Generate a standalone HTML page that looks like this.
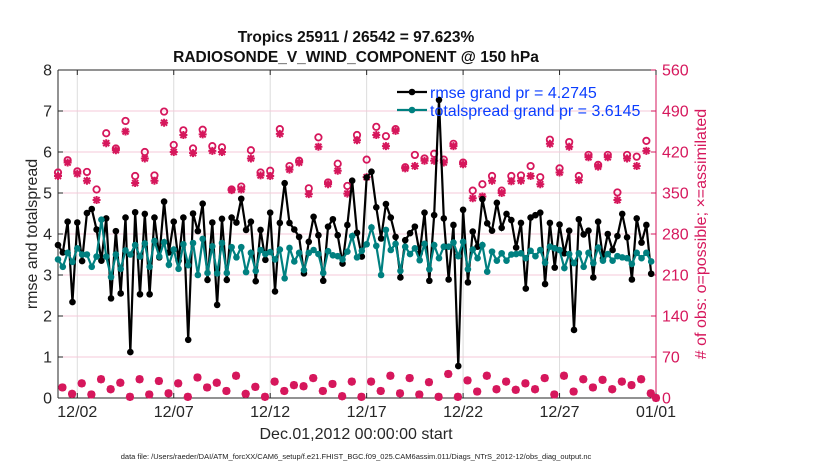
<!DOCTYPE html>
<html><head><meta charset="utf-8"><style>
body{margin:0;background:#fff;}
svg{display:block;font-family:"Liberation Sans",sans-serif;}
</style></head><body>
<svg id="chart" width="830" height="470" viewBox="0 0 830 470"></svg>
<script>
const rmse=[3.73,3.55,4.30,2.34,4.28,3.34,4.51,4.61,4.11,3.35,4.38,2.43,4.07,2.55,4.40,1.12,4.53,2.53,4.49,2.53,4.40,3.43,4.79,3.55,4.30,3.35,4.40,1.42,4.50,4.07,4.74,2.88,4.28,2.27,4.37,2.88,4.40,4.28,4.86,4.10,4.30,2.85,4.10,3.37,4.52,2.60,4.27,5.24,4.27,4.11,3.93,3.04,3.81,4.42,3.97,2.86,4.18,4.36,3.97,3.28,4.22,5.30,4.03,3.45,5.38,5.52,4.65,3.89,4.73,4.40,3.93,2.94,3.85,4.02,4.18,3.53,4.52,2.86,4.46,7.27,4.38,2.89,4.22,0.78,4.59,2.82,4.06,3.69,4.85,4.26,4.08,4.76,4.15,4.49,4.34,3.67,4.27,2.67,4.40,4.46,4.52,2.78,4.27,3.18,4.23,3.53,4.08,1.66,4.36,3.99,4.08,2.94,4.30,3.41,4.00,3.61,3.95,4.49,3.92,2.89,4.38,3.79,4.22,3.03];
const spread=[3.38,3.20,3.54,3.32,3.65,3.50,3.50,3.20,3.45,4.35,3.45,2.95,3.50,3.15,3.60,3.50,3.73,3.45,3.77,3.20,3.83,3.45,3.80,3.25,3.62,3.15,3.75,3.24,3.78,3.00,3.88,3.05,3.70,3.04,3.78,3.05,3.68,3.43,3.68,3.07,3.54,3.10,3.61,3.51,3.56,3.38,3.62,2.92,3.66,3.33,3.54,3.12,3.54,3.61,3.51,3.05,3.58,3.48,3.46,3.38,3.57,3.95,3.43,3.59,3.75,4.16,3.71,3.00,4.10,3.61,3.76,3.10,3.69,3.51,3.65,3.36,3.76,3.14,3.73,3.41,3.69,3.69,3.79,3.46,3.81,3.14,3.62,3.41,3.73,3.08,3.57,3.35,3.53,3.35,3.50,3.51,3.53,3.41,3.59,3.46,3.61,3.30,3.69,3.65,3.61,3.17,3.51,3.29,3.53,3.20,3.54,3.29,3.67,3.35,3.51,3.35,3.46,3.43,3.41,3.27,3.54,3.41,3.54,3.33];
const possibleHi=[385,406,387,386,356,452,426,473,379,420,380,489,432,457,426,458,430,428,356,361,423,385,388,459,396,405,358,445,368,400,362,449,407,463,447,459,394,415,409,417,407,434,402,354,365,379,354,379,380,396,377,441,392,437,379,415,398,415,351,415,412,439];
const assimHi=[379,402,383,371,338,435,423,455,367,409,371,470,420,449,418,450,422,420,355,356,409,380,379,451,390,402,348,429,365,388,349,440,377,449,430,456,392,396,405,405,402,430,399,341,344,371,350,370,371,379,365,434,385,429,372,411,395,411,338,409,396,422];
const obsLo=[18,7,25,6,32,15,26,2,32,6,29,8,25,2,35,18,26,12,38,7,19,2,28,12,22,20,34,12,24,3,28,2,28,12,38,8,34,6,27,2,41,2,30,11,38,15,28,14,25,15,34,6,38,11,32,18,31,15,28,22,32,8,0];
const xTickLabels=["12/02","12/07","12/12","12/17","12/22","12/27","01/01"];
const xTickDays=[1,6,11,16,21,26,31];
const yLeftTicks=[0,1,2,3,4,5,6,7,8];
const yRightTicks=[0,70,140,210,280,350,420,490,560];

const NS="http://www.w3.org/2000/svg";
const svg=document.getElementById('chart');
const L=58,R=656,T=70,B=398;
const xs=d=>L+(d/31)*(R-L);
const yl=v=>B-(v/8)*(B-T);
const yr=v=>B-(v/560)*(B-T);
const MAG="#d6175c";
function mk(tag,attrs,parent){const e=document.createElementNS(NS,tag);for(const k in attrs)e.setAttribute(k,attrs[k]);(parent||svg).appendChild(e);return e;}
function txt(s,attrs,parent){const e=mk('text',attrs,parent);e.textContent=s;return e;}

const grid=mk('g',{});


xTickDays.forEach(d=>{const l=mk('line',{x1:xs(d),x2:xs(d),y1:T,y2:B,stroke:'#dcdcdc','stroke-width':1},grid);

});
yLeftTicks.forEach(v=>{const l=mk('line',{x1:L,x2:R,y1:yl(v),y2:yl(v),stroke:'#f4c9d8','stroke-width':1},grid);

});

const ax=mk('g',{});


mk('line',{x1:L,x2:L,y1:T,y2:B,stroke:'#262626','stroke-width':1},ax);
mk('line',{x1:L,x2:R,y1:B,y2:B,stroke:'#262626','stroke-width':1},ax);
mk('line',{x1:L,x2:R,y1:T,y2:T,stroke:'#262626','stroke-width':1},ax);
mk('line',{x1:R,x2:R,y1:T,y2:B,stroke:MAG,'stroke-width':1},ax);
yLeftTicks.forEach(v=>{mk('line',{x1:L,x2:L+5,y1:yl(v),y2:yl(v),stroke:'#262626'},ax);
const t=txt(String(v),{x:L-6,y:yl(v)+5.5,'text-anchor':'end','font-size':16,fill:'#262626'},ax);

});
yRightTicks.forEach(v=>{mk('line',{x1:R-5,x2:R,y1:yr(v),y2:yr(v),stroke:MAG},ax);
const t=txt(String(v),{x:R+6,y:yr(v)+5.5,'font-size':16,fill:MAG},ax);

});
xTickDays.forEach((d,i)=>{mk('line',{x1:xs(d),x2:xs(d),y1:B,y2:B-5,stroke:'#262626'},ax);mk('line',{x1:xs(d),x2:xs(d),y1:T,y2:T+5,stroke:'#262626'},ax);
const t=txt(xTickLabels[i],{x:xs(d),y:B+19,'text-anchor':'middle','font-size':16,fill:'#262626'},ax);

});

const og=mk('g',{});


function star(x,y,parent){const r=4;mk('path',{d:`M${x-r} ${y}H${x+r}M${x} ${y-r}V${y+r}M${x-3} ${y-3}L${x+3} ${y+3}M${x-3} ${y+3}L${x+3} ${y-3}`,stroke:MAG,'stroke-width':2},parent);}
function ring(x,y,parent){mk('circle',{cx:x,cy:y,r:3.2,fill:'none',stroke:MAG,'stroke-width':1.8},parent);}
possibleHi.forEach((v,k)=>{ring(xs(k*0.5),yr(v),og);});
assimHi.forEach((v,k)=>{star(xs(k*0.5),yr(v),og);});
obsLo.forEach((v,k)=>{const d=Math.min(31,0.23+k*0.5);ring(xs(d),yr(v),og);star(xs(d),yr(v),og);});

function series(arr,color,name){const g=mk('g',{});


mk('polyline',{points:arr.map((v,i)=>xs(i*0.25)+','+yl(v)).join(' '),fill:'none',stroke:color,'stroke-width':2.2},g);
arr.forEach((v,i)=>mk('circle',{cx:xs(i*0.25),cy:yl(v),r:3.3,fill:color},g));}
series(rmse,'#000','rmse-series');
series(spread,'#008080','totalspread-series');

const lg=mk('g',{});


mk('line',{x1:397,x2:427,y1:92,y2:92,stroke:'#000','stroke-width':2.2},lg);
mk('circle',{cx:412,cy:92,r:3.3,fill:'#000'},lg);
txt('rmse grand pr = 4.2745',{x:430,y:98,'font-size':16,fill:'#0a3dff'},lg);
mk('line',{x1:397,x2:427,y1:110,y2:110,stroke:'#008080','stroke-width':2.2},lg);
mk('circle',{cx:412,cy:110,r:3.3,fill:'#008080'},lg);
txt('totalspread grand pr = 3.6145',{x:430,y:116,'font-size':16,fill:'#0a3dff'},lg);
</script>
<div style="position:absolute;left:0;top:0;width:830px;height:470px;pointer-events:none;font-family:'Liberation Sans',sans-serif;">
<div style="position:absolute;left:0;width:712px;top:28px;text-align:center;font-weight:bold;font-size:15.5px;color:#111;line-height:20px;">Tropics 25911 / 26542 = 97.623%<br>RADIOSONDE_V_WIND_COMPONENT @ 150 hPa</div>
<div style="position:absolute;left:33px;top:234px;transform:translate(-50%,-50%) rotate(-90deg);white-space:nowrap;font-size:16px;color:#262626;">rmse and totalspread</div>
<div style="position:absolute;left:702px;top:234px;transform:translate(-50%,-50%) rotate(-90deg);white-space:nowrap;font-size:16px;color:#d6175c;"># of obs: o=possible; ×=assimilated</div>
<div style="position:absolute;left:0;width:712px;top:426px;text-align:center;font-size:16px;color:#262626;">Dec.01,2012 00:00:00 start</div>
<div style="position:absolute;left:0;width:712px;top:452px;text-align:center;font-size:7.5px;color:#222;">data file: /Users/raeder/DAI/ATM_forcXX/CAM6_setup/f.e21.FHIST_BGC.f09_025.CAM6assim.011/Diags_NTrS_2012-12/obs_diag_output.nc</div>
</div>
</body></html>
